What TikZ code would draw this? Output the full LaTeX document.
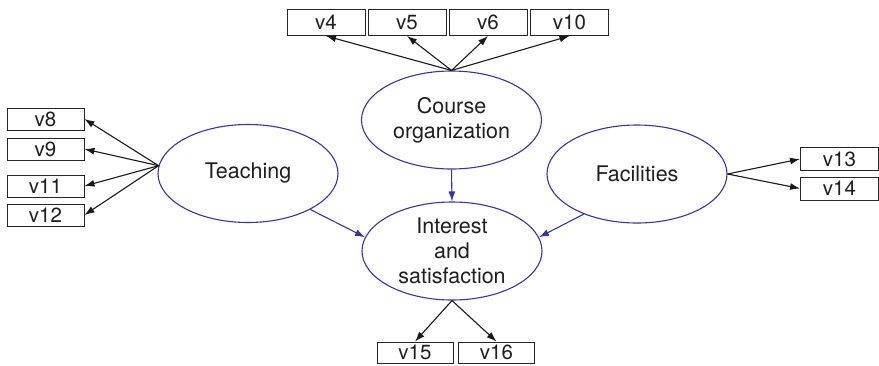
\documentclass[tikz,border=0pt]{standalone}
\usepackage{fontspec}
\setmainfont{TeX Gyre Heros}
\usetikzlibrary{shapes.geometric,arrows.meta}
\definecolor{ellblue}{RGB}{58,50,160}
\definecolor{txt}{RGB}{30,30,30}
\tikzset{
  latent/.style={ellipse, draw=ellblue, line width=1.1pt, minimum width=180pt, minimum height=98pt, inner sep=0pt, align=center, text=txt, font=\fontsize{21.5}{25}\selectfont},
  obsbox/.style={rectangle, draw=black!85, line width=0.9pt, inner sep=0pt, text=txt, font=\fontsize{20.5}{24}\selectfont},
  load/.style={draw=black!90, line width=1.1pt, -{Latex[length=10pt,width=7pt]}},
  path/.style={draw=ellblue, line width=1.1pt, -{Latex[length=10pt,width=7pt]}}
}
\begin{document}
\begin{tikzpicture}[x=1pt,y=-1pt]
\useasboundingbox (0,0) rectangle (879,365);
% latent variables
\node[latent] (course) at (451.5,120) {Course\\organization};
\node[latent] (teach) at (248,173.5) {Teaching};
\node[latent] (fac) at (637,174) {Facilities};
\node[latent] (inter) at (452,251) {Interest\\and\\satisfaction};
% top boxes
\node[obsbox, minimum width=78pt, minimum height=26pt] (v4) at (326,22.5) {v4};
\node[obsbox, minimum width=78pt, minimum height=26pt] (v5) at (407,22.5) {v5};
\node[obsbox, minimum width=78pt, minimum height=26pt] (v6) at (488,22.5) {v6};
\node[obsbox, minimum width=78pt, minimum height=26pt] (v10) at (569.5,22.5) {v10};
% left boxes
\node[obsbox, minimum width=77pt, minimum height=22pt] (v8) at (45.5,119) {v8};
\node[obsbox, minimum width=77pt, minimum height=22pt] (v9) at (45.5,149) {v9};
\node[obsbox, minimum width=77pt, minimum height=22pt] (v11) at (45.5,186) {v11};
\node[obsbox, minimum width=77pt, minimum height=22pt] (v12) at (45.5,215) {v12};
% right boxes
\node[obsbox, minimum width=78pt, minimum height=23pt] (v13) at (839.5,159) {v13};
\node[obsbox, minimum width=78pt, minimum height=23pt] (v14) at (839.5,188.5) {v14};
% bottom boxes
\node[obsbox, minimum width=76pt, minimum height=21pt] (v15) at (415,352.5) {v15};
\node[obsbox, minimum width=76pt, minimum height=21pt] (v16) at (496.5,352.5) {v16};
% loadings
\foreach \b in {v4,v5,v6,v10} \draw[load] (course.north) -- (\b.south);
\foreach \b in {v8,v9,v11,v12} \draw[load] (teach.175) -- (\b.east);
\foreach \b in {v13,v14} \draw[load] (fac.east) -- (\b.west);
\foreach \b in {v15,v16} \draw[load] (inter.south) -- (\b.north);
% structural paths
\draw[path] (course.south) -- (inter.north);
\draw[path] (teach.330) -- (inter.171);
\draw[path] (fac.217) -- (inter.9);
\end{tikzpicture}
\end{document}
